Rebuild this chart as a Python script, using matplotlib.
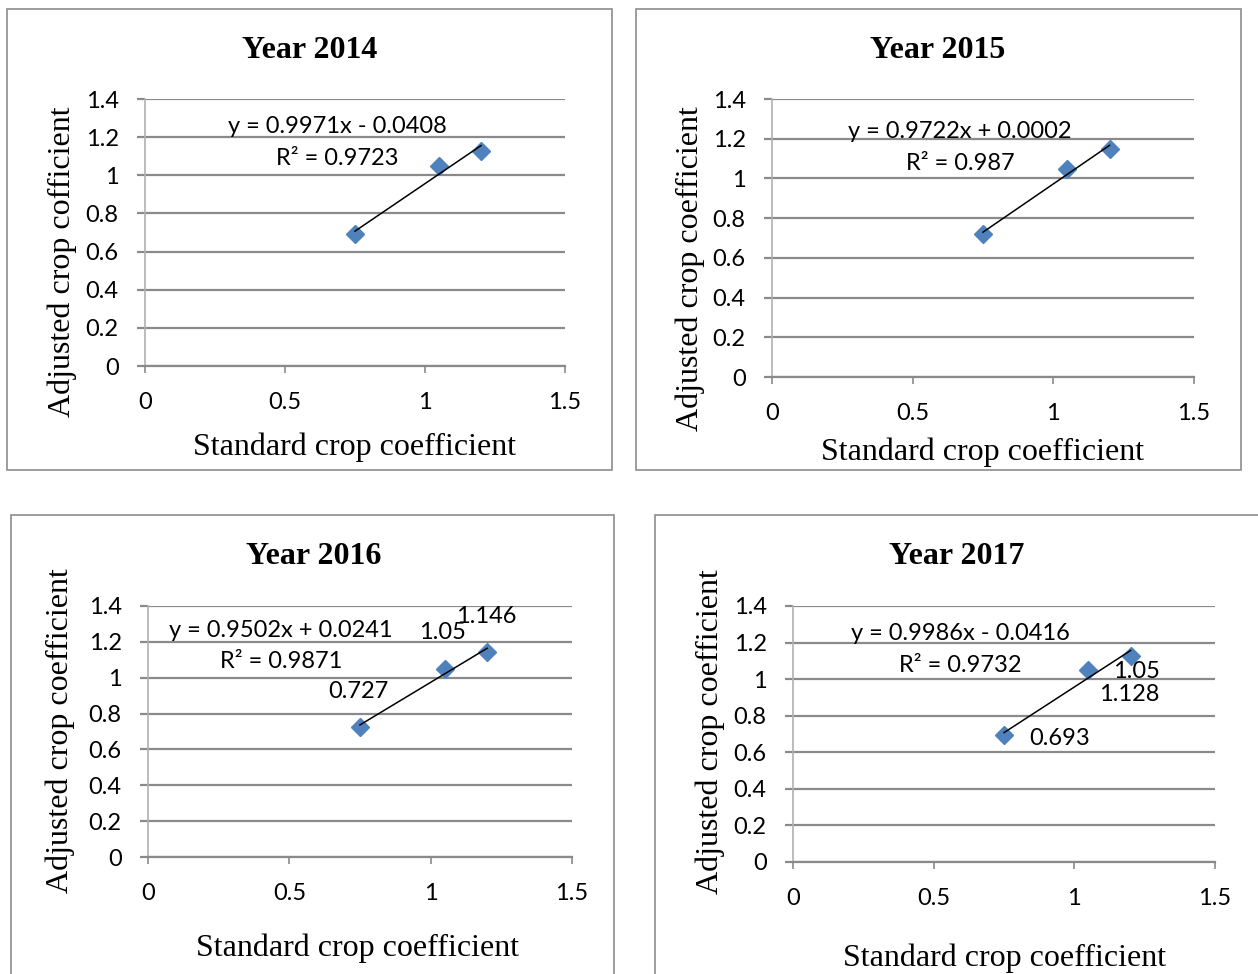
import matplotlib.pyplot as plt
import matplotlib.patches as patches
import numpy as np

plt.rcParams['font.family'] = ['Lato', 'DejaVu Sans']
plt.rcParams['font.size'] = 17

# standard vs adjusted crop coefficients (three growth stages)
std_kc = [0.75, 1.05, 1.2]
years = ['2014', '2015', '2016', '2017']
adj_kc = {
    '2014': [0.693, 1.05, 1.128],
    '2015': [0.72, 1.05, 1.146],
    '2016': [0.727, 1.05, 1.146],
    '2017': [0.693, 1.05, 1.128],
}
slopes = {'2014': 0.9971, '2015': 0.9722, '2016': 0.9502, '2017': 0.9986}
intercepts = {'2014': -0.0408, '2015': 0.0002, '2016': 0.0241, '2017': -0.0416}
r2 = {'2014': '0.9723', '2015': '0.987', '2016': '0.9871', '2017': '0.9732'}
ylabels = {'2014': 'Adjusted crop cofficient', '2015': 'Adjusted crop coefficient',
           '2016': 'Adjusted crop coefficient', '2017': 'Adjusted crop coefficient'}
labelled = ['2016', '2017']

W, H = 1258, 974
fig = plt.figure(figsize=(W / 100, H / 100), dpi=100)

def fx(px):
    return px / W

def fy(py):
    return 1 - py / H

# layout in pixels: axes box (left, top, right, bottom), panel border, title, label centres
layout = {
    '2014': dict(ax=(145, 99, 565, 366), box=(7, 9, 612, 470), title=(310, 51),
                 xl=(355, 447), yl=(62, 262), eq=(0.686, 1.258, 1.09)),
    '2015': dict(ax=(772, 99, 1194, 377), box=(636, 9, 1241, 470), title=(938, 51),
                 xl=(983, 452), yl=(690, 269), eq=(0.668, 1.238, 1.077)),
    '2016': dict(ax=(148, 606, 572, 857), box=(11, 515, 614, 990), title=(314, 557),
                 xl=(358, 948), yl=(60, 731), eq=(0.47, 1.266, 1.093)),
    '2017': dict(ax=(793, 606, 1215, 862), box=(655, 515, 1270, 990), title=(957, 557),
                 xl=(1005, 958), yl=(710, 732), eq=(0.594, 1.252, 1.077)),
}
# data label offsets (points) for the labelled years
label_offsets = {
    '2016': [((-1, 25), 'center', 'center'), ((-2, 26), 'center', 'center'), ((-1, 25), 'center', 'center')],
    '2017': [((18, -2), 'left', 'center'), ((18, -1), 'left', 'center'), ((-1, -28), 'center', 'center')],
}

grid_c = '#8a8a8a'
blue = '#4F81BD'

for yr in years:
    L = layout[yr]
    l, t, r, b = L['ax']
    ax = fig.add_axes([fx(l), fy(b), fx(r) - fx(l), fy(t) - fy(b)])
    ax.set_xlim(0, 1.5)
    ax.set_ylim(0, 1.4)
    ax.set_xticks(np.arange(0, 1.51, 0.5))
    ax.set_yticks(np.arange(0, 1.41, 0.2))
    ax.set_xticklabels(['0', '0.5', '1', '1.5'])
    ax.set_yticklabels(['0', '0.2', '0.4', '0.6', '0.8', '1', '1.2', '1.4'])
    ax.grid(axis='y', color=grid_c, lw=1.6)
    ax.set_axisbelow(True)
    for s in ['top', 'right']:
        ax.spines[s].set_visible(False)
    ax.spines['left'].set_color('#b0b0b0')
    ax.spines['left'].set_linewidth(1.2)
    ax.spines['bottom'].set_color(grid_c)
    ax.spines['bottom'].set_linewidth(1.6)
    ax.tick_params(axis='y', length=6, width=1.6, color=grid_c, pad=13)
    ax.tick_params(axis='x', length=5, width=1.2, color=grid_c, pad=14)
    ax.patch.set_alpha(0)

    ax.plot(std_kc, adj_kc[yr], 'D', color=blue, ms=9.5, zorder=3)
    xs = np.array([min(std_kc), max(std_kc)])
    ax.plot(xs, slopes[yr] * xs + intercepts[yr], color='black', lw=1.1, zorder=4)

    sign = '+' if intercepts[yr] >= 0 else '-'
    ex, ey, ry = L['eq']
    ax.text(ex, ey, f'y = {slopes[yr]:.4f}x {sign} {abs(intercepts[yr]):.4f}',
            ha='center', va='center', fontsize=17)
    ax.text(ex, ry, f'R² = {r2[yr]}', ha='center', va='center', fontsize=17)

    if yr in labelled:
        for xv, yv, (off, ha, va) in zip(std_kc, adj_kc[yr], label_offsets[yr]):
            ax.annotate(f'{yv:g}', (xv, yv), xytext=off, textcoords='offset points',
                        ha=ha, va=va, fontsize=17)

    fig.text(fx(L['title'][0]), fy(L['title'][1]), f'Year {yr}', ha='center', va='center',
             fontsize=23, fontweight='bold', family='Liberation Serif')
    fig.text(fx(L['xl'][0]), fy(L['xl'][1]), 'Standard crop coefficient', ha='center',
             va='center', fontsize=23, family='Liberation Serif')
    fig.text(fx(L['yl'][0]), fy(L['yl'][1]), ylabels[yr], ha='center', va='center',
             rotation=90, fontsize=23, family='Liberation Serif')

    bl, bt, br, bb = L['box']
    fig.patches.append(patches.Rectangle((fx(bl), fy(bb)), fx(br) - fx(bl), fy(bt) - fy(bb),
                                         transform=fig.transFigure, fill=False,
                                         edgecolor='#8c8c8c', lw=1.2))

plt.savefig('out.png', dpi=100)
